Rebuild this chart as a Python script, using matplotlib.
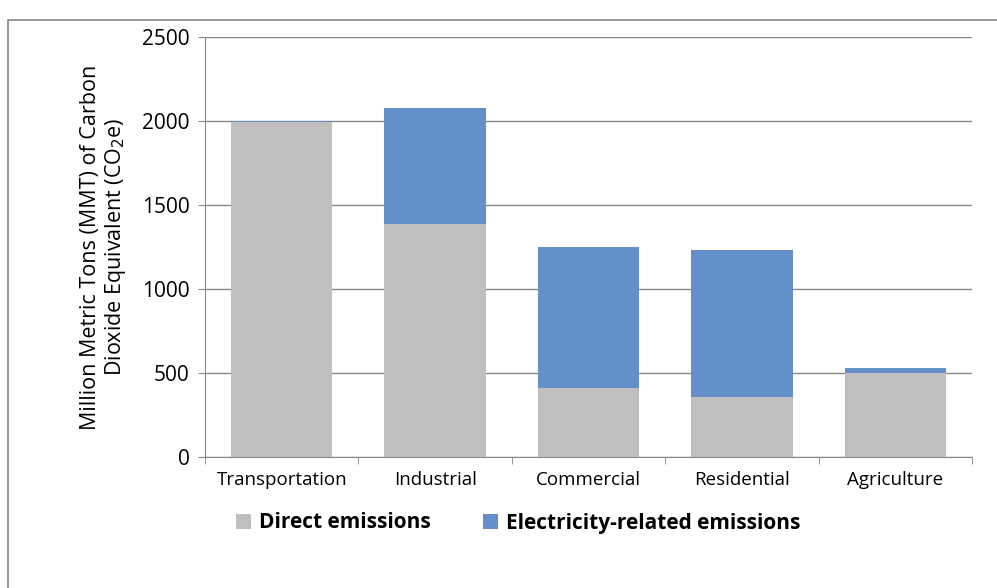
import matplotlib.pyplot as plt
import matplotlib.patches as patches

categories = ['Transportation', 'Industrial', 'Commercial', 'Residential', 'Agriculture']
direct = [1995, 1385, 410, 355, 500]
electricity = [5, 695, 840, 875, 30]

plt.rcParams['font.family'] = ['Open Sans', 'DejaVu Sans']

fig = plt.figure(figsize=(9.97, 5.88), dpi=100)
fig.patches.append(patches.Rectangle((8 / 997, -0.01), 1.0, 1 - 14 / 588, transform=fig.transFigure,
                                     fill=False, edgecolor='#888888', linewidth=1.2))
ax = fig.add_axes([205 / 997, 1 - 457 / 588, (972 - 205) / 997, (457 - 37) / 588])

x = range(len(categories))
ax.bar(x, direct, width=0.66, color='#BFBFBF', label='Direct emissions', zorder=2)
ax.bar(x, electricity, width=0.66, bottom=direct, color='#6590C7',
       label='Electricity-related emissions', zorder=2)

ax.set_xlim(-0.5, 4.5)
ax.set_ylim(0, 2500)
ax.set_yticks(range(0, 2501, 500))
ax.set_xticks(x)
ax.set_xticklabels(categories, fontsize=13.5)
ax.tick_params(axis='y', labelsize=15, length=5, color='#888888', pad=6)
ax.tick_params(axis='x', length=0, pad=10)
ax.set_xticks([i - 0.5 for i in range(6)], minor=True)
ax.tick_params(axis='x', which='minor', length=5, color='#888888')
ax.grid(axis='y', color='#888888', linewidth=1, zorder=0)
for s in ['top', 'right']:
    ax.spines[s].set_visible(False)
for s in ['left', 'bottom']:
    ax.spines[s].set_color('#888888')
ax.set_ylabel('Million Metric Tons (MMT) of Carbon\nDioxide Equivalent (CO$_2$e)', fontsize=15.5,
              labelpad=10, linespacing=1.1)

leg = fig.legend(loc='center', bbox_to_anchor=(0.52, 1 - 523 / 588), ncol=2, frameon=False,
                 prop={'size': 15, 'weight': 'bold'}, handlelength=0.7, handleheight=0.7,
                 columnspacing=2.5, handletextpad=0.4)

fig.savefig('out.png', dpi=100)
